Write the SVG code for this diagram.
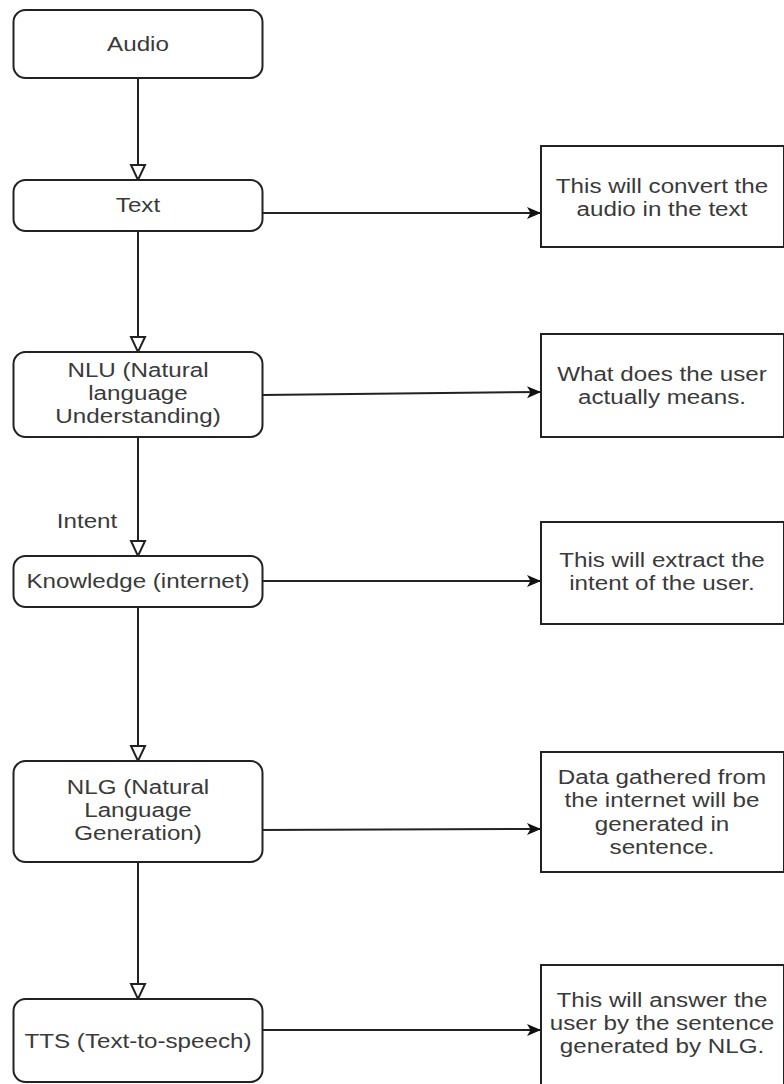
<svg xmlns="http://www.w3.org/2000/svg" width="784" height="1084" viewBox="0 0 784 1084">
<style>
.node rect{fill:#fff;stroke:#222;stroke-width:2}
text{font-family:"Liberation Sans",Arial,sans-serif;font-size:20px;fill:#3a3a3a;text-anchor:middle}
.edge{fill:none;stroke:#222;stroke-width:2}
.down{marker-end:url(#open)}
.right{marker-end:url(#solid)}
</style>
<defs>
<marker id="open" markerUnits="userSpaceOnUse" markerWidth="20" markerHeight="20" refX="15" refY="7" orient="auto" overflow="visible"><path d="M0,0 L15,7 L0,14 Z" fill="#fff" stroke="#222" stroke-width="2"/></marker>
<marker id="solid" markerUnits="userSpaceOnUse" markerWidth="20" markerHeight="20" refX="14" refY="6" orient="auto" overflow="visible"><path d="M0,0 L14,6 L0,12 L3.5,6 Z" fill="#111"/></marker>
</defs>
<rect width="784" height="1084" fill="#fff"/>
<g id="connectors">
<path class="edge down" d="M138,78 V180"/>
<path class="edge down" d="M138,231 V352"/>
<path class="edge down" d="M138,437 V556"/>
<path class="edge down" d="M138,607 V761"/>
<path class="edge down" d="M138,862 V999"/>
<path class="edge right" d="M262,213 H541"/>
<path class="edge right" d="M262,395 L541,392"/>
<path class="edge right" d="M262,581 H541"/>
<path class="edge right" d="M258,830 L541,829"/>
<path class="edge right" d="M262,1030 H541"/>
<text transform="translate(87,528) scale(1.21,1)">Intent</text>
</g>
<g id="audio" class="node"><rect x="13.5" y="10" width="249" height="68" rx="12"/><text transform="translate(138,51) scale(1.21,1)">Audio</text></g>
<g id="text" class="node"><rect x="13.5" y="180" width="249" height="51" rx="12"/><text transform="translate(138,212) scale(1.21,1)">Text</text></g>
<g id="nlu" class="node"><rect x="13.5" y="352" width="249" height="85" rx="12"/><text transform="translate(138,377) scale(1.21,1)"><tspan x="0">NLU (Natural</tspan><tspan x="0" dy="23">language</tspan><tspan x="0" dy="23">Understanding)</tspan></text></g>
<g id="knowledge" class="node"><rect x="13.5" y="556" width="249" height="51" rx="12"/><text transform="translate(138,588) scale(1.21,1)">Knowledge (internet)</text></g>
<g id="nlg" class="node"><rect x="13.5" y="761" width="249" height="101" rx="12"/><text transform="translate(138,794) scale(1.21,1)"><tspan x="0">NLG (Natural</tspan><tspan x="0" dy="23">Language</tspan><tspan x="0" dy="23">Generation)</tspan></text></g>
<g id="tts" class="node"><rect x="13.5" y="999" width="249" height="83" rx="12"/><text transform="translate(138,1048) scale(1.21,1)">TTS (Text-to-speech)</text></g>
<g id="note1" class="node"><rect x="541" y="146" width="243" height="101"/><text transform="translate(662,193) scale(1.21,1)"><tspan x="0">This will convert the</tspan><tspan x="0" dy="23">audio in the text</tspan></text></g>
<g id="note2" class="node"><rect x="541" y="334" width="243" height="103"/><text transform="translate(662,381) scale(1.21,1)"><tspan x="0">What does the user</tspan><tspan x="0" dy="23">actually means.</tspan></text></g>
<g id="note3" class="node"><rect x="541" y="522" width="243" height="102"/><text transform="translate(662,567) scale(1.21,1)"><tspan x="0">This will extract the</tspan><tspan x="0" dy="23">intent of the user.</tspan></text></g>
<g id="note4" class="node"><rect x="541" y="752" width="243" height="120"/><text transform="translate(662,784) scale(1.21,1)"><tspan x="0">Data gathered from</tspan><tspan x="0" dy="23.5">the internet will be</tspan><tspan x="0" dy="23.5">generated in</tspan><tspan x="0" dy="23.5">sentence.</tspan></text></g>
<g id="note5" class="node"><rect x="541" y="965" width="243" height="130"/><text transform="translate(662,1007) scale(1.21,1)"><tspan x="0">This will answer the</tspan><tspan x="0" dy="23">user by the sentence</tspan><tspan x="0" dy="23">generated by NLG.</tspan></text></g>
</svg>
